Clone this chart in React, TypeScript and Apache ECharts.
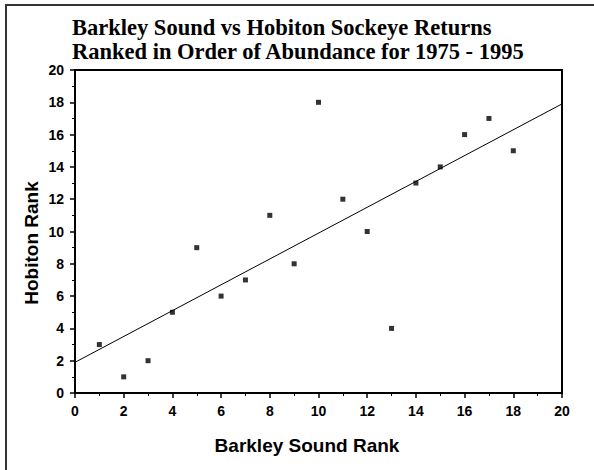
import React, { useEffect, useRef } from "react";
import * as echarts from "echarts";

const barkleyRank = [1, 2, 3, 4, 5, 6, 7, 8, 9, 10, 11, 12, 13, 14, 15, 16, 17, 18];
const hobitonRank = [3, 1, 2, 5, 9, 6, 7, 11, 8, 18, 12, 10, 4, 13, 14, 16, 17, 15];
const trendX = [0, 20];
const trendY = [1.9, 17.9];
const titleLines = [
  "Barkley Sound vs Hobiton Sockeye Returns",
  "Ranked in Order of Abundance for 1975 - 1995",
];
const xName = "Barkley Sound Rank";
const yName = "Hobiton Rank";

export default function App() {
  const ref = useRef<HTMLDivElement>(null);
  useEffect(() => {
    document.body.style.margin = "0";
    if (!ref.current) return;
    const chart = echarts.init(ref.current, null, { renderer: "svg" });
    const axisFont = {
      fontFamily: "Liberation Sans",
      fontWeight: "bold" as const,
      fontSize: 14,
      color: "#000",
    };
    const titleStyle = {
      fontFamily: "Liberation Serif",
      fontWeight: "bold",
      fontSize: 22.5,
      fill: "#000",
      align: "left",
      verticalAlign: "middle",
    };
    const nameStyle = {
      fontFamily: "Liberation Sans",
      fontWeight: "bold",
      fontSize: 19,
      fill: "#000",
      align: "center",
      verticalAlign: "middle",
    };
    chart.setOption({
      animation: false,
      backgroundColor: "#fff",
      graphic: [
        {
          type: "rect",
          shape: { x: 6, y: 5, width: 620, height: 500 },
          style: { fill: "none", stroke: "#333", lineWidth: 2 },
          silent: true,
        },
        { type: "text", x: 72, y: 27, style: { ...titleStyle, text: titleLines[0] } },
        { type: "text", x: 72, y: 51, style: { ...titleStyle, text: titleLines[1] } },
        { type: "text", x: 307, y: 445, style: { ...nameStyle, text: xName } },
        {
          type: "text",
          x: 31,
          y: 243,
          rotation: Math.PI / 2,
          style: { ...nameStyle, text: yName },
        },
      ],
      grid: {
        left: 75,
        top: 70,
        right: 32,
        bottom: 77,
        show: true,
        borderColor: "#000",
        borderWidth: 2,
        backgroundColor: "transparent",
      },
      xAxis: {
        type: "value",
        min: 0,
        max: 20,
        interval: 2,
        axisLine: { show: true, lineStyle: { color: "#000", width: 2 } },
        axisTick: { show: true, length: 5, lineStyle: { color: "#000", width: 1.5 } },
        minorTick: { show: true, splitNumber: 2, length: 3, lineStyle: { color: "#000", width: 1 } },
        axisLabel: { ...axisFont, margin: 11 },
        splitLine: { show: false },
      },
      yAxis: {
        type: "value",
        min: 0,
        max: 20,
        interval: 2,
        axisLine: { show: true, lineStyle: { color: "#000", width: 2 } },
        axisTick: { show: true, length: 5, lineStyle: { color: "#000", width: 1.5 } },
        minorTick: { show: true, splitNumber: 2, length: 3, lineStyle: { color: "#000", width: 1 } },
        axisLabel: { ...axisFont, margin: 11 },
        splitLine: { show: false },
      },
      series: [
        {
          type: "line",
          data: trendX.map((x, i) => [x, trendY[i]]),
          showSymbol: false,
          symbol: "none",
          lineStyle: { color: "#000", width: 1 },
          silent: true,
          z: 1,
        },
        {
          type: "scatter",
          data: barkleyRank.map((x, i) => [x, hobitonRank[i]]),
          symbol: "rect",
          symbolSize: 5,
          itemStyle: { color: "#000" },
          z: 2,
        },
      ],
    });
    return () => chart.dispose();
  }, []);
  return <div ref={ref} style={{ width: 594, height: 470 }} />;
}
